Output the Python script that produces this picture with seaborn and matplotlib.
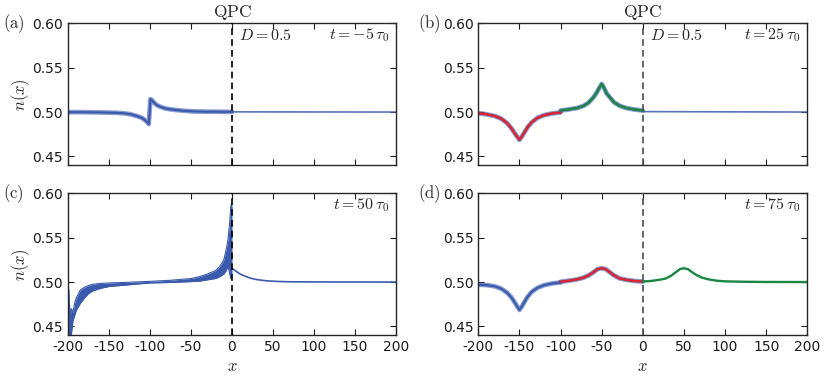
import numpy as np
import matplotlib
matplotlib.use("Agg")
import matplotlib.pyplot as plt
import seaborn as sns

# ---- data ----
# (a) t = -5 tau0
xa_left = [-200, -185, -160, -140, -132, -124, -116, -110, -106, -103, -101.5,
           -99.5, -98, -95, -92, -88, -82, -76, -70, -60, -47, -30, -15, 0]
ya_left = [0.4999, 0.4999, 0.4996, 0.4991, 0.4986, 0.4976, 0.4955, 0.4935, 0.4908,
           0.4885, 0.4864, 0.5145, 0.5137, 0.5105, 0.508, 0.5062, 0.5042, 0.5032,
           0.5025, 0.5015, 0.5007, 0.5004, 0.5003, 0.5002]
xa_right = [0, 200]
ya_right = [0.5002, 0.5000]

# (b) t = 25 tau0
xb_red = [-200, -190, -180, -172, -165, -160, -156, -153, -150, -147, -144,
          -140, -135, -128, -120, -110, -100]
yb_red = [0.4987, 0.4975, 0.4955, 0.4925, 0.4875, 0.482, 0.4765, 0.4725, 0.4687,
          0.4725, 0.477, 0.483, 0.4885, 0.4935, 0.4965, 0.4985, 0.4995]
xb_green = [-100, -90, -80, -72, -66, -60, -56, -53, -50, -47, -44, -40, -35,
            -28, -20, -10, 0]
yb_green = [0.5017, 0.503, 0.5045, 0.507, 0.5105, 0.5165, 0.522, 0.527, 0.5317,
            0.527, 0.521, 0.5165, 0.511, 0.507, 0.5045, 0.5028, 0.5017]
xb_right = [0, 200]
yb_right = [0.5005, 0.5000]

# (c) t = 50 tau0 : fast lattice oscillation, drawn as lower / upper envelope
xc_env = [-200, -199, -197.5, -196, -194, -192, -190, -185, -180, -175, -170,
          -160, -150, -125, -100, -75, -50, -40, -30, -20, -15, -10, -7, -5,
          -3, -1.5, -0.5, 0]
yc_low = [0.44, 0.44, 0.44, 0.44, 0.456, 0.462, 0.468, 0.476, 0.482, 0.487,
          0.490, 0.493, 0.495, 0.497, 0.499, 0.4995, 0.5005, 0.501, 0.5025,
          0.504, 0.506, 0.509, 0.513, 0.518, 0.510, 0.504, 0.51, 0.507]
yc_up = [0.4975, 0.49, 0.462, 0.47, 0.466, 0.476, 0.482, 0.491, 0.494, 0.496,
         0.4975, 0.4985, 0.499, 0.4998, 0.5008, 0.502, 0.504, 0.506, 0.509,
         0.513, 0.5175, 0.525, 0.537, 0.5475, 0.565, 0.585, 0.5887, 0.58]
xc_right = [0, 3, 6, 10, 15, 22, 30, 42, 55, 70, 100, 200]
yc_right = [0.5156, 0.5135, 0.5115, 0.509, 0.507, 0.5045, 0.5028, 0.5014,
            0.5007, 0.5003, 0.5001, 0.5000]

# (d) t = 75 tau0
xd_blue = [-200, -190, -180, -172, -165, -160, -156, -153, -150, -147, -144,
           -140, -135, -128, -120, -110, -100]
yd_blue = [0.497, 0.4966, 0.4952, 0.4925, 0.488, 0.483, 0.4775, 0.473, 0.4687,
           0.4725, 0.4775, 0.4835, 0.489, 0.4935, 0.4965, 0.4985, 0.4995]
xd_red = [-100, -90, -80, -72, -66, -60, -55, -50, -45, -40, -35, -28, -20, -10, 0]
yd_red = [0.5003, 0.5015, 0.503, 0.505, 0.5075, 0.511, 0.5145, 0.5156, 0.5145,
          0.511, 0.5075, 0.504, 0.5025, 0.5012, 0.5006]
xd_green = [0, 10, 20, 28, 35, 40, 45, 50, 55, 60, 66, 72, 80, 90, 100, 125, 150, 200]
yd_green = [0.5006, 0.5012, 0.5025, 0.504, 0.5075, 0.511, 0.5145, 0.5156,
            0.5145, 0.511, 0.5075, 0.505, 0.503, 0.5015, 0.5008, 0.5003,
            0.5001, 0.5000]

panel_tags = ["(a)", "(b)", "(c)", "(d)"]
time_labels = [r"$t=-5\,\tau_0$", r"$t=25\,\tau_0$", r"$t=50\,\tau_0$", r"$t=75\,\tau_0$"]

BLUE = "#3a5bad"
RED = "#e3212b"
GREEN = "#1b8642"

sns.set_style("ticks")
plt.rcParams.update({
    "font.family": ["DejaVu Sans"],
    "mathtext.fontset": "cm",
    "axes.unicode_minus": False,
    "xtick.direction": "in",
    "ytick.direction": "in",
    "xtick.top": True,
    "ytick.right": True,
    "xtick.major.size": 4,
    "ytick.major.size": 4,
    "axes.edgecolor": "0.15",
    "axes.linewidth": 1.0,
})


def line(ax, x, y, **kw):
    sns.lineplot(x=x, y=y, ax=ax, estimator=None, sort=False, legend=False, **kw)


def fuzzy(ax, x, y):
    # measured points drawn as star markers in the original -> soft thick band
    line(ax, x, y, color=BLUE, lw=3.4, alpha=0.6)
    line(ax, x, y, color=BLUE, lw=1.6)


fig = plt.figure(figsize=(8.3, 3.75), dpi=100)
W, H = 830.0, 375.0
boxes = [(68, 23.3, 328), (478.3, 23.3, 329), (68, 193.3, 328), (478.3, 193.3, 329)]
axes = []
for (l, t, w) in boxes:
    axes.append(fig.add_axes([l / W, 1 - (t + 142) / H, w / W, 142 / H]))
ax_a, ax_b, ax_c, ax_d = axes

# (a)
fuzzy(ax_a, xa_left, ya_left)
line(ax_a, xa_right, ya_right, color=BLUE, lw=1.2, alpha=0.85)

# (b)
fuzzy(ax_b, xb_red, yb_red)
fuzzy(ax_b, xb_green, yb_green)
line(ax_b, xb_right, yb_right, color=BLUE, lw=1.2, alpha=0.85)
line(ax_b, xb_red, yb_red, color=RED, lw=1.7)
line(ax_b, xb_green, yb_green, color=GREEN, lw=1.7)

# (c)
ax_c.fill_between(xc_env, yc_low, yc_up, color=BLUE, lw=0)
line(ax_c, xc_env, yc_low, color=BLUE, lw=0.8)
line(ax_c, xc_env, yc_up, color=BLUE, lw=0.8)
line(ax_c, xc_right, yc_right, color=BLUE, lw=1.2)

# (d)
fuzzy(ax_d, xd_blue, yd_blue)
fuzzy(ax_d, xd_red, yd_red)
line(ax_d, xd_red, yd_red, color=RED, lw=1.7)
line(ax_d, xd_green, yd_green, color=GREEN, lw=1.7)

for i, ax in enumerate(axes):
    dash_col = "black" if i in (0, 2) else "0.3"
    ax.axvline(0, color=dash_col, lw=1.2, ls=(0, (4, 2.5)), zorder=5)
    ax.set_xlim(-200, 200)
    ax.set_ylim(0.44, 0.60)
    ax.set_yticks([0.45, 0.50, 0.55, 0.60])
    ax.set_yticklabels(["0.45", "0.50", "0.55", "0.60"])
    ax.set_xticks([-200, -150, -100, -50, 0, 50, 100, 150, 200])
    ax.tick_params(labelsize=10, colors="0.1", width=0.8)
    ax.set_xlabel("")
    ax.set_ylabel("")
    tag_x = -0.198 if i in (0, 2) else -0.183
    ax.text(tag_x, 1.0, r"$\mathrm{" + panel_tags[i] + "}$", transform=ax.transAxes,
            ha="left", va="center", fontsize=12)
    ax.text(0.979, 0.915, time_labels[i], transform=ax.transAxes,
            ha="right", va="center", fontsize=11.5)
    if i < 2:
        ax.tick_params(labelbottom=False)
        ax.text(0.5, 1.01, r"$\mathrm{QPC}$", transform=ax.transAxes,
                ha="center", va="bottom", fontsize=12.5)
        ax.text(0.522, 0.915, r"$D=0.5$", transform=ax.transAxes,
                ha="left", va="center", fontsize=11.5)
    else:
        ax.set_xlabel(r"$x$", fontsize=12, labelpad=2)
    if i in (0, 2):
        ax.set_ylabel(r"$n(x)$", fontsize=12)
        ax.yaxis.set_label_coords(-0.11, 0.5)

fig.savefig("out.png", dpi=100, facecolor="white")
